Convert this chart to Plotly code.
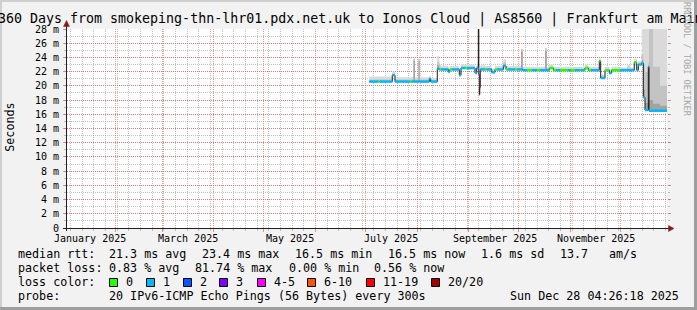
import pandas as pd
import plotly.graph_objects as go

# ---------------- data ----------------
title_text = "360 Days from smokeping-thn-lhr01.pdx.net.uk to Ionos Cloud | AS8560 | Frankfurt am Main"
x_range = ["2025-01-03 00:00", "2025-12-29 00:00"]
month_label_dates = ["2025-01-16 12:00", "2025-03-16 12:00", "2025-05-16 12:00",
                     "2025-07-16 12:00", "2025-09-16 12:00", "2025-11-16 12:00"]
month_labels = ["January 2025", "March 2025", "May 2025", "July 2025",
                "September 2025", "November 2025"]
y_tick_vals = [0, 2, 4, 6, 8, 10, 12, 14, 16, 18, 20, 22, 24, 26, 28]
y_tick_text = ["0", "2 m", "4 m", "6 m", "8 m", "10 m", "12 m", "14 m", "16 m",
               "18 m", "20 m", "22 m", "24 m", "26 m", "28 m"]

step_start = [
    "2025-07-03 09:00", "2025-07-08 14:00", "2025-07-09 15:00", "2025-07-17 04:00",
    "2025-07-18 19:00", "2025-07-27 19:00", "2025-07-28 20:00", "2025-07-29 22:00",
    "2025-07-30 19:00", "2025-08-01 22:00", "2025-08-02 15:00", "2025-08-08 09:00",
    "2025-08-09 05:00", "2025-08-13 04:00", "2025-08-14 09:00", "2025-08-15 10:00",
    "2025-08-19 19:00", "2025-08-20 19:00", "2025-08-22 00:00", "2025-08-26 09:00",
    "2025-08-27 10:00", "2025-08-29 19:00", "2025-08-31 00:00", "2025-09-04 19:00",
    "2025-09-05 20:00", "2025-09-06 19:00", "2025-09-07 02:00", "2025-09-07 09:00",
    "2025-09-07 16:00", "2025-09-07 23:00", "2025-09-10 19:00", "2025-09-11 20:00",
    "2025-09-14 20:00", "2025-09-16 19:00", "2025-09-18 00:00", "2025-09-21 19:00",
    "2025-09-23 10:00", "2025-09-24 12:00", "2025-09-28 19:00", "2025-09-30 00:00",
    "2025-10-02 10:00", "2025-10-03 10:00", "2025-10-06 00:00", "2025-10-09 00:00",
    "2025-10-12 00:00", "2025-10-13 19:00", "2025-10-16 19:00", "2025-10-17 20:00",
    "2025-10-19 09:00", "2025-10-21 19:00", "2025-10-23 12:00", "2025-10-25 19:00",
    "2025-10-30 14:00", "2025-11-01 00:00", "2025-11-03 19:00", "2025-11-06 12:00",
    "2025-11-07 12:00", "2025-11-09 19:00", "2025-11-11 19:00", "2025-11-13 12:00",
    "2025-11-18 09:00", "2025-11-19 05:00", "2025-11-21 19:00", "2025-11-24 09:00",
    "2025-11-25 20:00", "2025-11-30 19:00", "2025-12-05 00:00", "2025-12-06 19:00",
    "2025-12-09 09:00", "2025-12-10 20:00", "2025-12-11 19:00", "2025-12-13 20:00",
    "2025-12-14 19:00", "2025-12-15 19:00", "2025-12-17 19:00", "2025-12-18 05:00",
    "2025-12-20 14:00", "2025-12-24 19:00",
]
series_end = "2025-12-29 00:00"

median_ms = [
    20.6, 20.6, 20.6, 21.5, 20.6, 20.6, 20.6, 20.6, 20.6, 20.6, 20.6, 21.0,
    20.6, 22.4, 22.3, 22.3, 22.0, 22.3, 22.3, 21.5, 22.5, 22.5, 22.5, 21.8,
    22.5, 29.5, 21.6, 18.8, 19.8, 22.3, 22.3, 22.3, 21.9, 22.3, 22.3, 22.8,
    22.3, 22.3, 22.3, 22.3, 22.3, 22.2, 22.2, 22.2, 22.2, 22.2, 22.2, 22.2,
    22.5, 22.2, 22.2, 22.2, 22.2, 22.2, 22.2, 22.2, 22.2, 22.5, 22.2, 22.2,
    23.5, 21.1, 22.2, 21.8, 22.2, 22.2, 22.2, 22.2, 23.3, 22.2, 23.0, 23.2,
    18.4, 16.6, 22.7, 16.5, 16.5, 16.5,
]
loss_count = [
    1, 0, 1, 1, 1, 0, 1, 1, 1, 1, 1, 1,
    1, 1, 0, 1, 1, 0, 1, 1, 1, 0, 1, 1,
    1, 3, 5, 15, 15, 1, 0, 1, 1, 0, 1, 1,
    0, 1, 0, 1, 1, 1, 0, 1, 0, 1, 1, 1,
    0, 0, 1, 0, 1, 0, 1, 0, 1, 0, 0, 1,
    0, 1, 0, 1, 0, 1, 1, 1, 0, 1, 1, 1,
    1, 1, 1, 1, 1, 1,
]
smoke_top = [
    21.3, 21.3, 21.3, 22.0, 21.2, 21.2, 21.2, 23.8, 21.2, 23.8, 21.2, 21.4,
    21.1, 24.2, 23.0, 22.8, 22.6, 22.8, 22.8, 22.1, 23.0, 23.0, 23.0, 22.4,
    23.1, 29.5, 22.8, 19.6, 20.6, 22.9, 22.8, 22.8, 22.4, 22.8, 22.8, 23.7,
    22.8, 22.8, 22.8, 22.8, 25.2, 22.7, 22.7, 22.7, 22.7, 22.7, 25.3, 22.7,
    23.0, 22.7, 22.7, 22.7, 22.7, 22.7, 22.7, 22.7, 22.7, 23.0, 22.7, 22.7,
    23.9, 21.6, 22.7, 22.3, 22.7, 22.6, 22.9, 22.6, 23.8, 22.7, 23.5, 30.0,
    30.0, 30.0, 30.0, 30.0, 30.0, 30.0,
]
smoke_mid = [
    20.9, 20.9, 20.9, 21.7, 20.9, 20.9, 20.9, 23.8, 20.9, 23.8, 20.9, 21.1,
    20.8, 23.4, 22.6, 22.5, 22.3, 22.5, 22.5, 21.7, 22.7, 22.7, 22.7, 22.0,
    22.8, 29.5, 22.1, 19.1, 20.1, 22.6, 22.5, 22.5, 22.1, 22.5, 22.5, 23.3,
    22.5, 22.5, 22.5, 22.5, 25.2, 22.4, 22.4, 22.4, 22.4, 22.4, 25.3, 22.4,
    22.7, 22.4, 22.4, 22.4, 22.4, 22.4, 22.4, 22.4, 22.4, 22.7, 22.4, 22.4,
    23.6, 21.3, 22.4, 22.0, 22.4, 22.4, 22.6, 22.4, 23.5, 22.4, 23.2, 24.5,
    23.0, 22.0, 23.2, 28.5, 22.7, 20.0,
]
smoke_core = [
    20.6, 20.6, 20.6, 21.5, 20.6, 20.6, 20.6, 23.5, 20.6, 23.5, 20.6, 21.0,
    20.6, 22.9, 22.3, 22.3, 22.0, 22.3, 22.3, 21.5, 22.5, 22.5, 22.5, 21.8,
    22.5, 29.5, 21.6, 18.8, 19.8, 22.3, 22.3, 22.3, 21.9, 22.3, 22.3, 23.0,
    22.3, 22.3, 22.3, 22.3, 24.8, 22.2, 22.2, 22.2, 22.2, 22.2, 24.9, 22.2,
    22.5, 22.2, 22.2, 22.2, 22.2, 22.2, 22.2, 22.2, 22.2, 22.5, 22.2, 22.2,
    23.5, 21.1, 22.2, 21.8, 22.2, 22.2, 22.2, 22.2, 23.3, 22.2, 23.0, 23.6,
    19.5, 17.6, 22.7, 18.0, 17.5, 17.2,
]

loss_labels = ["0", "1", "2", "3", "4-5", "6-10", "11-19", "20/20"]
loss_upper = [0, 1, 2, 3, 5, 10, 19, 20]
loss_colors = ["#26ff00", "#00b8ff", "#0059ff", "#7e00ff", "#ff00ff", "#ff5500", "#ff0000", "#a10000"]

legend_rtt = ["median rtt:", "21.3 ms avg", "23.4 ms max", "16.5 ms min", "16.5 ms now",
              "1.6 ms sd", "13.7", "am/s"]
legend_loss = ["packet loss:", "0.83 % avg", "81.74 % max", "0.00 % min", "0.56 % now"]
legend_probe = ["probe:", "20 IPv6-ICMP Echo Pings (56 Bytes) every 300s"]
timestamp_text = "Sun Dec 28 04:26:18 2025"
watermark_text = "RRDTOOL / TOBI OETIKER"
y_title = "Seconds"

# ---------------- layout helpers ----------------
W, H = 697, 310
ML, MR, MT, MB = 67, 30, 29, 82
PW, PH = W - ML - MR, H - MT - MB
FONT = "DejaVu Sans Mono"
BG = "#f2f2f2"
MGRID = "rgba(222,79,79,0.6)"
GRID = "rgba(143,143,143,0.55)"
SMOKE_COLORS = ["#dadada", "#c3c3c3", "#a3a3a3"]


def xp(x):
    return (x - ML) / PW


def yp(y):
    return (H - MB - y) / PH


starts = list(pd.to_datetime(step_start))
ends = starts[1:] + [pd.Timestamp(series_end)]
x_step = starts + [pd.Timestamp(series_end)]

fig = go.Figure()

# smoke bands
base = median_ms + [median_ms[-1]]
for band, col in zip([smoke_top, smoke_mid, smoke_core], SMOKE_COLORS):
    fig.add_trace(go.Scatter(x=x_step, y=base, mode="lines",
                             line=dict(width=0, shape="hv"), hoverinfo="skip"))
    fig.add_trace(go.Scatter(x=x_step, y=band + [band[-1]], mode="lines",
                             line=dict(width=0, shape="hv"), fill="tonexty",
                             fillcolor=col, hoverinfo="skip"))

# thin dark median line
fig.add_trace(go.Scatter(x=x_step, y=base, mode="lines",
                         line=dict(width=1, shape="hv", color="#1a1a1a"),
                         hoverinfo="skip"))


def loss_class(n):
    for i, up in enumerate(loss_upper):
        if n <= up:
            return i
    return len(loss_upper) - 1


# colored median segments by loss
for ci, col in enumerate(loss_colors):
    xs, ys = [], []
    for s, e, m, lc in zip(starts, ends, median_ms, loss_count):
        if loss_class(lc) == ci:
            xs += [s, e, None]
            ys += [m, m, None]
    if xs:
        fig.add_trace(go.Scatter(x=xs, y=ys, mode="lines",
                                 line=dict(width=2.5, color=col),
                                 hoverinfo="skip", connectgaps=False))

annotations = []
shapes = []


def text(s, x, y, size=11.7, anchor="left", color="black", angle=0):
    annotations.append(dict(text=s, x=xp(x), y=yp(y), xref="paper", yref="paper",
                            xanchor=anchor, yanchor="middle", showarrow=False,
                            textangle=angle,
                            font=dict(family=FONT, size=size, color=color)))


# title and side texts
text(title_text, -3.7, 19.3, size=13.3)
text(y_title, 10.5, 127.2, anchor="center", angle=-90)
text(watermark_text, 687.5, 59.5, size=8.6, anchor="center", color="#a8a8a8", angle=90)

# month labels (data x)
for d, lab in zip(month_label_dates, month_labels):
    annotations.append(dict(text=lab, x=d, xref="x", y=yp(238.3), yref="paper",
                            xanchor="center", yanchor="middle", showarrow=False,
                            font=dict(family=FONT, size=10, color="black")))

# legend lines
rtt_x = [16, 107.3, 200, 293.3, 386, 479.3, 558.3, 607.3]
for s, x in zip(legend_rtt, rtt_x):
    text(s, x, 254.3)
loss_x = [16, 107.3, 192.7, 286.7, 372.3]
for s, x in zip(legend_loss, loss_x):
    text(s, x, 268.3)
text("loss color:", 16, 282.3)
sq_x = [109, 146, 183, 219, 257, 307, 366, 431]
for lab, col, x in zip(loss_labels, loss_colors, sq_x):
    shapes.append(dict(type="rect", xref="paper", yref="paper",
                       x0=xp(x + 0.5), x1=xp(x + 8.5), y0=yp(286.5), y1=yp(278.5),
                       fillcolor=col, line=dict(color="black", width=1)))
    text(lab, x + 14.5, 282.3)
probe_x = [16, 107.3]
for s, x in zip(legend_probe, probe_x):
    text(s, x, 296)
text(timestamp_text, 680.5, 296, anchor="right")

# axes lines and arrows
AX = "#1f1f1f"
ARROW = "#801f1f"
shapes.append(dict(type="line", xref="paper", yref="paper", x0=xp(63), x1=xp(670),
                   y0=yp(228.5), y1=yp(228.5), line=dict(color=AX, width=1)))
shapes.append(dict(type="line", xref="paper", yref="paper", x0=xp(66.5), x1=xp(66.5),
                   y0=yp(231), y1=yp(24), line=dict(color=AX, width=1)))


def tri(pts):
    return "M " + " L ".join(f"{xp(a)},{yp(b)}" for a, b in pts) + " Z"


shapes.append(dict(type="path", xref="paper", yref="paper",
                   path=tri([(66.5, 20.5), (63.5, 26.5), (69.5, 26.5)]),
                   fillcolor=ARROW, line=dict(color=ARROW, width=0.5)))
shapes.append(dict(type="path", xref="paper", yref="paper",
                   path=tri([(674, 228.5), (668.5, 225.5), (668.5, 231.5)]),
                   fillcolor=ARROW, line=dict(color=ARROW, width=0.5)))

# frame shading
for (x0, y0, x1, y1, c) in [(0, 0, 697, 2, "#cfcfcf"), (0, 0, 2, 310, "#cfcfcf"),
                            (0, 307, 697, 310, "#9e9e9e"), (694, 0, 697, 310, "#9e9e9e")]:
    shapes.append(dict(type="rect", xref="paper", yref="paper", x0=xp(x0), x1=xp(x1),
                       y0=yp(y1), y1=yp(y0), fillcolor=c, line=dict(width=0)))

fig.update_layout(
    width=W, height=H, margin=dict(l=ML, r=MR, t=MT, b=MB, pad=0),
    paper_bgcolor=BG, plot_bgcolor="white", showlegend=False,
    annotations=annotations, shapes=shapes, hovermode=False,
    xaxis=dict(type="date", range=x_range, tickmode="linear", tick0="2025-01-01",
               dtick="M1", showticklabels=False, showgrid=True, gridcolor=MGRID,
               griddash="1px,1px", gridwidth=1, ticks="outside", ticklen=3,
               tickcolor=MGRID, showline=False, zeroline=False,
               minor=dict(tickmode="linear", tick0="2025-01-05", dtick=7 * 86400000,
                          showgrid=True, gridcolor=GRID, griddash="1px,1px",
                          ticks="outside", ticklen=2, tickcolor=GRID)),
    yaxis=dict(range=[0, 28], tickmode="array", tickvals=y_tick_vals,
               ticktext=y_tick_text, tickfont=dict(family=FONT, size=10, color="black"),
               showgrid=True, gridcolor=MGRID, griddash="1px,1px", ticks="outside",
               ticklen=3, tickcolor=MGRID, showline=False, zeroline=False,
               mirror="ticks", ticklabelstandoff=2,
               minor=dict(tickmode="linear", tick0=0, dtick=1, showgrid=True,
                          gridcolor=GRID, griddash="1px,1px", ticks="outside",
                          ticklen=2, tickcolor=GRID)),
)

fig.write_html("out.html")
